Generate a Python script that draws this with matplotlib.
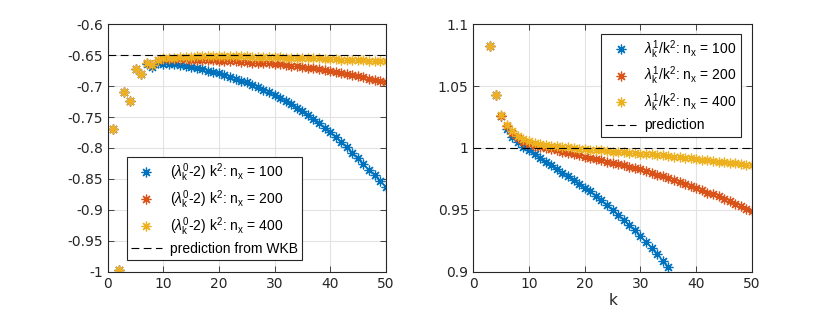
import matplotlib
matplotlib.use("Agg")
import matplotlib.pyplot as plt
import numpy as np

plt.rcParams['font.family'] = ['Liberation Sans', 'DejaVu Sans']
plt.rcParams['mathtext.fontset'] = 'custom'
plt.rcParams['mathtext.rm'] = 'Liberation Sans'
plt.rcParams['mathtext.it'] = 'Liberation Sans:italic'
plt.rcParams['axes.unicode_minus'] = False
plt.rcParams['font.size'] = 10

# ---- data ----
k_left = list(range(1, 51))
left_100 = [-0.770, -0.998, -0.710, -0.724, -0.673, -0.681, -0.665, -0.669, -0.663, -0.664,
            -0.664, -0.665, -0.666, -0.667, -0.669, -0.671, -0.673, -0.675, -0.677, -0.679,
            -0.682, -0.685, -0.688, -0.691, -0.694, -0.698, -0.702, -0.706, -0.710, -0.714,
            -0.719, -0.724, -0.729, -0.735, -0.741, -0.747, -0.753, -0.760, -0.767, -0.774,
            -0.782, -0.790, -0.799, -0.808, -0.817, -0.826, -0.835, -0.844, -0.853, -0.863]
left_200 = [-0.770, -0.998, -0.710, -0.7235, -0.673, -0.680, -0.663, -0.666, -0.657, -0.656,
            -0.656, -0.656, -0.656, -0.656, -0.657, -0.657, -0.657, -0.658, -0.658, -0.659,
            -0.659, -0.660, -0.660, -0.661, -0.661, -0.662, -0.662, -0.663, -0.663, -0.664,
            -0.665, -0.666, -0.667, -0.668, -0.669, -0.670, -0.671, -0.673, -0.674, -0.676,
            -0.677, -0.679, -0.680, -0.682, -0.684, -0.686, -0.688, -0.690, -0.691, -0.693]
left_400 = [-0.770, -0.998, -0.710, -0.7235, -0.673, -0.680, -0.663, -0.666, -0.657, -0.655,
            -0.654, -0.654, -0.653, -0.653, -0.653, -0.652, -0.652, -0.652, -0.652, -0.652,
            -0.652, -0.652, -0.652, -0.652, -0.652, -0.653, -0.653, -0.653, -0.653, -0.653,
            -0.653, -0.654, -0.654, -0.654, -0.654, -0.655, -0.655, -0.655, -0.656, -0.656,
            -0.656, -0.657, -0.657, -0.657, -0.658, -0.658, -0.659, -0.659, -0.660, -0.660]
wkb = -0.65

k_right = list(range(3, 51))
k_right_100 = list(range(3, 36))
right_100 = [1.0827, 1.0431, 1.0255, 1.015, 1.009, 1.005, 1.001, 0.998, 0.995, 0.992,
             0.989, 0.986, 0.983, 0.980, 0.977, 0.974, 0.971, 0.968, 0.965, 0.961,
             0.958, 0.954, 0.950, 0.946, 0.942, 0.938, 0.934, 0.929, 0.924, 0.919,
             0.914, 0.909, 0.904]
right_200 = [1.0827, 1.0431, 1.0261, 1.0175, 1.012, 1.008, 1.005, 1.003, 1.002, 1.001,
             1.000, 0.999, 0.998, 0.997, 0.996, 0.995, 0.994, 0.993, 0.992, 0.991,
             0.990, 0.989, 0.988, 0.987, 0.986, 0.985, 0.984, 0.983, 0.9815, 0.980,
             0.9785, 0.977, 0.9755, 0.974, 0.9725, 0.971, 0.9695, 0.968, 0.966, 0.964,
             0.9625, 0.961, 0.959, 0.957, 0.955, 0.953, 0.951, 0.949]
right_400 = [1.0827, 1.0431, 1.0263, 1.0183, 1.0135, 1.010, 1.0075, 1.0055, 1.004, 1.003,
             1.0025, 1.002, 1.0015, 1.001, 1.0005, 1.000, 0.9995, 0.999, 0.9985, 0.998,
             0.998, 0.9975, 0.997, 0.997, 0.9965, 0.996, 0.996, 0.9955, 0.995, 0.995,
             0.9945, 0.994, 0.9935, 0.993, 0.9925, 0.992, 0.9915, 0.991, 0.9905, 0.990,
             0.9895, 0.989, 0.9885, 0.988, 0.9875, 0.987, 0.9865, 0.986]
prediction = 1.0

nx_labels = ['100', '200', '400']
colors = ['#0072BD', '#D95319', '#EDB120']
star = (8, 2, 0)

fig = plt.figure(figsize=(8.3, 3.12), dpi=100)
ax1 = fig.add_axes([0.1298, 0.1292, 0.3349, 0.793])
ax2 = fig.add_axes([0.5702, 0.1292, 0.3358, 0.793])


def style_axes(ax):
    ax.grid(True, color='#e3e3e3', linewidth=0.8)
    ax.set_axisbelow(True)
    for s in ax.spines.values():
        s.set_color('#262626')
        s.set_linewidth(0.8)
    ax.tick_params(direction='in', top=True, right=True, length=4, width=0.6,
                   colors='#262626', labelsize=10, labelcolor='#262626')
    for t in ax.get_xticklabels() + ax.get_yticklabels():
        t.set_fontfamily('DejaVu Sans')


# left panel
for y, c, n in zip([left_100, left_200, left_400], colors, nx_labels):
    ax1.plot(k_left, y, linestyle='none', marker=star, markersize=7, markeredgewidth=0.9,
             color=c,
             label='(' + r'$\lambda_\mathrm{k}^\mathrm{0}$' + '-2) k' + r'$^\mathrm{2}$'
                   + ': n' + r'$_\mathrm{x}$' + ' = ' + n)
ax1.plot([0, 50], [wkb, wkb], color='k', linestyle='--', linewidth=0.8, dashes=(7, 4),
         label='prediction from WKB')
ax1.set_xlim(0, 50)
ax1.set_ylim(-1, -0.6)
ax1.set_xticks(np.arange(0, 51, 10))
ax1.set_yticks(np.arange(-1, -0.59, 0.05))
ax1.set_yticklabels(['-1', '-0.95', '-0.9', '-0.85', '-0.8', '-0.75', '-0.7', '-0.65', '-0.6'])
style_axes(ax1)
leg1 = ax1.legend(loc='lower left', bbox_to_anchor=(0.069, 0.047), borderaxespad=0,
                  fancybox=False, edgecolor='#262626', framealpha=1, handlelength=2.2,
                  labelspacing=0.3, handletextpad=0.6, borderpad=0.3, fontsize=10)
leg1.get_frame().set_linewidth(0.8)

# right panel
ax2.plot(k_right_100, right_100, linestyle='none', marker=star, markersize=7,
         markeredgewidth=0.9, color=colors[0],
         label=r'$\lambda_\mathrm{k}^\mathrm{1}$' + '/k' + r'$^\mathrm{2}$' + ': n'
               + r'$_\mathrm{x}$' + ' = ' + nx_labels[0])
for y, c, n in zip([right_200, right_400], colors[1:], nx_labels[1:]):
    ax2.plot(k_right, y, linestyle='none', marker=star, markersize=7, markeredgewidth=0.9,
             color=c,
             label=r'$\lambda_\mathrm{k}^\mathrm{1}$' + '/k' + r'$^\mathrm{2}$' + ': n'
                   + r'$_\mathrm{x}$' + ' = ' + n)
ax2.plot([0, 50], [prediction, prediction], color='k', linestyle='--', linewidth=0.8,
         dashes=(7, 4), label='prediction')
ax2.set_xlim(0, 50)
ax2.set_ylim(0.9, 1.1)
ax2.set_xticks(np.arange(0, 51, 10))
ax2.set_yticks([0.9, 0.95, 1.0, 1.05, 1.1])
ax2.set_yticklabels(['0.9', '0.95', '1', '1.05', '1.1'])
ax2.set_xlabel('k', fontsize=11, color='#262626', labelpad=2, fontfamily='DejaVu Sans')
style_axes(ax2)
leg2 = ax2.legend(loc='upper right', bbox_to_anchor=(0.96, 0.961), borderaxespad=0,
                  fancybox=False, edgecolor='#262626', framealpha=1, handlelength=2.2,
                  labelspacing=0.3, handletextpad=0.6, borderpad=0.3, fontsize=10)
leg2.get_frame().set_linewidth(0.8)

plt.savefig('out.png', dpi=100)
